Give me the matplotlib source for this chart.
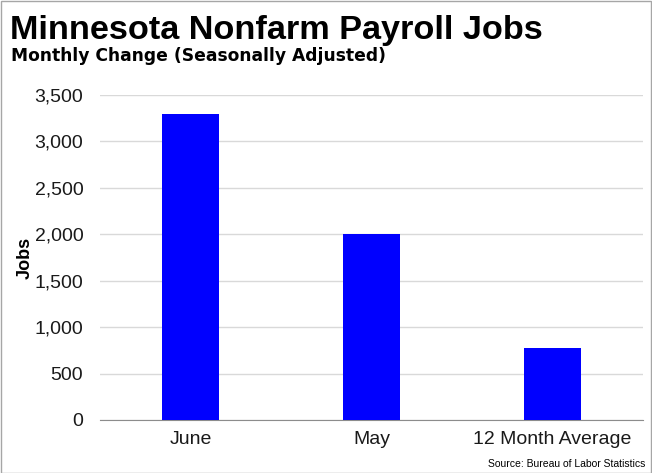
import matplotlib
matplotlib.use("Agg")
import matplotlib.pyplot as plt
from matplotlib.patches import Rectangle
from matplotlib.ticker import FuncFormatter

categories = ["June", "May", "12 Month Average"]
values = [3300, 2000, 780]
yticks = [0, 500, 1000, 1500, 2000, 2500, 3000, 3500]

W, H = 652, 473
fig = plt.figure(figsize=(W/100, H/100), dpi=100)
ax = fig.add_axes([100/W, 1-420/H, 543/W, 325/H])

x = list(range(len(categories)))
ax.bar(x, values, width=0.315, color="#0000FF", zorder=3)
ax.set_xlim(-0.5, len(categories)-0.5)
ax.set_ylim(0, 3500)
ax.set_yticks(yticks)
ax.yaxis.set_major_formatter(FuncFormatter(lambda v, p: f"{int(v):,}"))
ax.set_xticks(x)
ax.set_xticklabels(categories)
ax.grid(axis="y", color="#d9d9d9", linewidth=1, zorder=0)
for s in ["left", "right", "top"]:
    ax.spines[s].set_visible(False)
ax.spines["bottom"].set_color("#8c8c8c")
ax.tick_params(axis="both", length=0, labelsize=14, labelcolor="#1a1a1a")
ax.tick_params(axis="y", pad=12)
ax.tick_params(axis="x", pad=8)
for lab in ax.get_xticklabels() + ax.get_yticklabels():
    lab.set_fontfamily("Liberation Sans")
ax.set_ylabel("Jobs", fontsize=13, fontweight="bold", fontfamily="Liberation Sans")
ax.yaxis.set_label_coords(-66/543, 0.50)

fig.text(10/W, 1-30/H, "Minnesota Nonfarm Payroll Jobs", fontsize=24.7, fontweight="bold",
         fontfamily="Liberation Sans", va="center", ha="left")
fig.text(11/W, 1-56/H, "Monthly Change (Seasonally Adjusted)", fontsize=12.3, fontweight="bold",
         fontfamily="DejaVu Sans", va="center", ha="left")
fig.text(645/W, 1-464/H, "Source: Bureau of Labor Statistics", fontsize=7.5,
         fontfamily="Liberation Sans", va="center", ha="right")

fig.patches.append(Rectangle((0.5/W, 0.5/H), 1-1.5/W, 1-1.5/H, transform=fig.transFigure,
                             fill=False, edgecolor="#a6a6a6", linewidth=1))
fig.savefig("out.png", dpi=100)
